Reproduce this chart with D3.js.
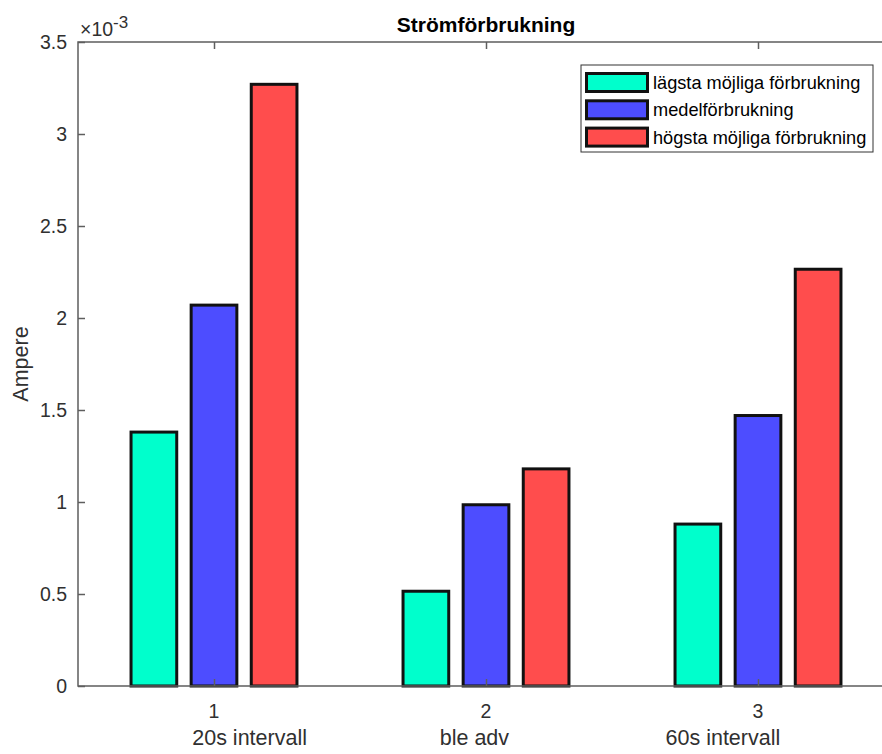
<!DOCTYPE html>
<html>
<head>
<meta charset="utf-8">
<script src="https://cdn.jsdelivr.net/npm/d3@7"></script>
<style>
  body { margin: 0; background: #fff; }
  svg { display: block; font-family: "Liberation Sans", Arial, sans-serif; }
</style>
</head>
<body>
<div id="chart"></div>
<script>
// chart data (Ampere)
const groups = [1, 2, 3];
const groupLabels = ["20s intervall", "ble adv", "60s intervall"];
const labelX = [0.92, 1.83, 2.66]; // left edge of the text, in x units
const seriesNames = ["lägsta möjliga förbrukning", "medelförbrukning", "högsta möjliga förbrukning"];
const lowest = [1.38e-3, 0.515e-3, 0.88e-3];
const mean = [2.07e-3, 0.985e-3, 1.47e-3];
const highest = [3.27e-3, 1.18e-3, 2.265e-3];
const yTicks = [0, 0.5e-3, 1e-3, 1.5e-3, 2e-3, 2.5e-3, 3e-3, 3.5e-3];
const colours = ["#00FFCC", "#4D4DFF", "#FF4D4D"];

const series = [lowest, mean, highest];

const W = 882, H = 754;
const plot = { left: 78, right: 894, top: 42, bottom: 686 };

const svg = d3.select("#chart")
  .append("svg")
    .attr("width", W)
    .attr("height", H);

const x = d3.scaleLinear().domain([0.5, 3.5]).range([plot.left, plot.right]);
const y = d3.scaleLinear().domain([0, 3.5e-3]).range([plot.bottom, plot.top]);

const offset = 0.221, barW = 0.168;
const axisCol = "#5e5e5e", textCol = "#303030";

// bars
series.forEach((vals, s) => {
  svg.append("g")
    .selectAll("rect")
    .data(vals)
    .enter()
    .append("rect")
      .attr("x", (d, i) => x(groups[i] + (s - 1) * offset - barW / 2))
      .attr("y", d => y(d))
      .attr("width", x(barW) - x(0))
      .attr("height", d => y(0) - y(d))
      .attr("fill", colours[s])
      .attr("stroke", "#111")
      .attr("stroke-width", 3);
});

// axes box
svg.append("path")
  .attr("d", `M${plot.left},${plot.top}H${plot.right}V${plot.bottom}H${plot.left}Z`)
  .attr("fill", "none")
  .attr("stroke", axisCol)
  .attr("stroke-width", 1.5);

// y axis (inward ticks)
const yAxis = svg.append("g")
  .attr("transform", `translate(${plot.left},0)`)
  .call(d3.axisRight(y).tickValues(yTicks).tickSize(7).tickFormat(""));
yAxis.select(".domain").remove();
yAxis.selectAll("line").attr("stroke", axisCol).attr("stroke-width", 1.5);

svg.append("g")
  .selectAll("text")
  .data(yTicks)
  .enter()
  .append("text")
    .attr("x", plot.left - 11)
    .attr("y", d => y(d))
    .attr("dy", "0.36em")
    .attr("text-anchor", "end")
    .style("font-size", "19.5px")
    .style("fill", textCol)
    .text(d => d3.format("~g")(+(d * 1000).toFixed(2)));

// x axis ticks, bottom and top, inward
const xb = svg.append("g")
  .attr("transform", `translate(0,${plot.bottom})`)
  .call(d3.axisTop(x).tickValues(groups).tickSize(7).tickFormat(""));
xb.select(".domain").remove();
xb.selectAll("line").attr("stroke", axisCol).attr("stroke-width", 1.5);

const xt = svg.append("g")
  .attr("transform", `translate(0,${plot.top})`)
  .call(d3.axisBottom(x).tickValues(groups).tickSize(7).tickFormat(""));
xt.select(".domain").remove();
xt.selectAll("line").attr("stroke", axisCol).attr("stroke-width", 1.5);

svg.append("g")
  .selectAll("text")
  .data(groups)
  .enter()
  .append("text")
    .attr("x", d => x(d))
    .attr("y", 718)
    .attr("text-anchor", "middle")
    .style("font-size", "19.5px")
    .style("fill", textCol)
    .text(d => d);

// group labels under the tick numbers
svg.append("g")
  .selectAll("text")
  .data(groupLabels)
  .enter()
  .append("text")
    .attr("x", (d, i) => x(labelX[i]))
    .attr("y", 745)
    .style("font-size", "21.5px")
    .style("fill", textCol)
    .text(d => d);

// exponent
const expo = svg.append("text")
  .attr("x", 80)
  .attr("y", 36)
  .style("font-size", "19.5px")
  .style("fill", textCol);
expo.append("tspan").text("×10");
expo.append("tspan").attr("dy", -8).style("font-size", "17px").text("-3");

// title
svg.append("text")
  .attr("x", (plot.left + plot.right) / 2)
  .attr("y", 32)
  .attr("text-anchor", "middle")
  .style("font-size", "21px")
  .style("font-weight", "bold")
  .style("fill", "#000")
  .text("Strömförbrukning");

// y label
svg.append("text")
  .attr("transform", `translate(28,${(plot.top + plot.bottom) / 2}) rotate(-90)`)
  .attr("text-anchor", "middle")
  .style("font-size", "21.5px")
  .style("fill", textCol)
  .text("Ampere");

// legend
const legend = svg.append("g").attr("transform", "translate(581,65)");
legend.append("rect")
  .attr("width", 292)
  .attr("height", 87)
  .attr("fill", "#fff")
  .attr("stroke", "#333")
  .attr("stroke-width", 1);

const items = legend.selectAll(".legend-item")
  .data(seriesNames)
  .enter()
  .append("g")
    .attr("class", "legend-item")
    .attr("transform", (d, i) => `translate(0,${17.5 + i * 27.3})`);

items.append("rect")
  .attr("x", 5.5)
  .attr("y", -9)
  .attr("width", 61)
  .attr("height", 18)
  .attr("fill", (d, i) => colours[i])
  .attr("stroke", "#111")
  .attr("stroke-width", 3);

items.append("text")
  .attr("x", 72)
  .attr("y", 0)
  .attr("dy", "0.36em")
  .style("font-size", "18.2px")
  .style("fill", "#000")
  .text(d => d);
</script>
</body>
</html>
